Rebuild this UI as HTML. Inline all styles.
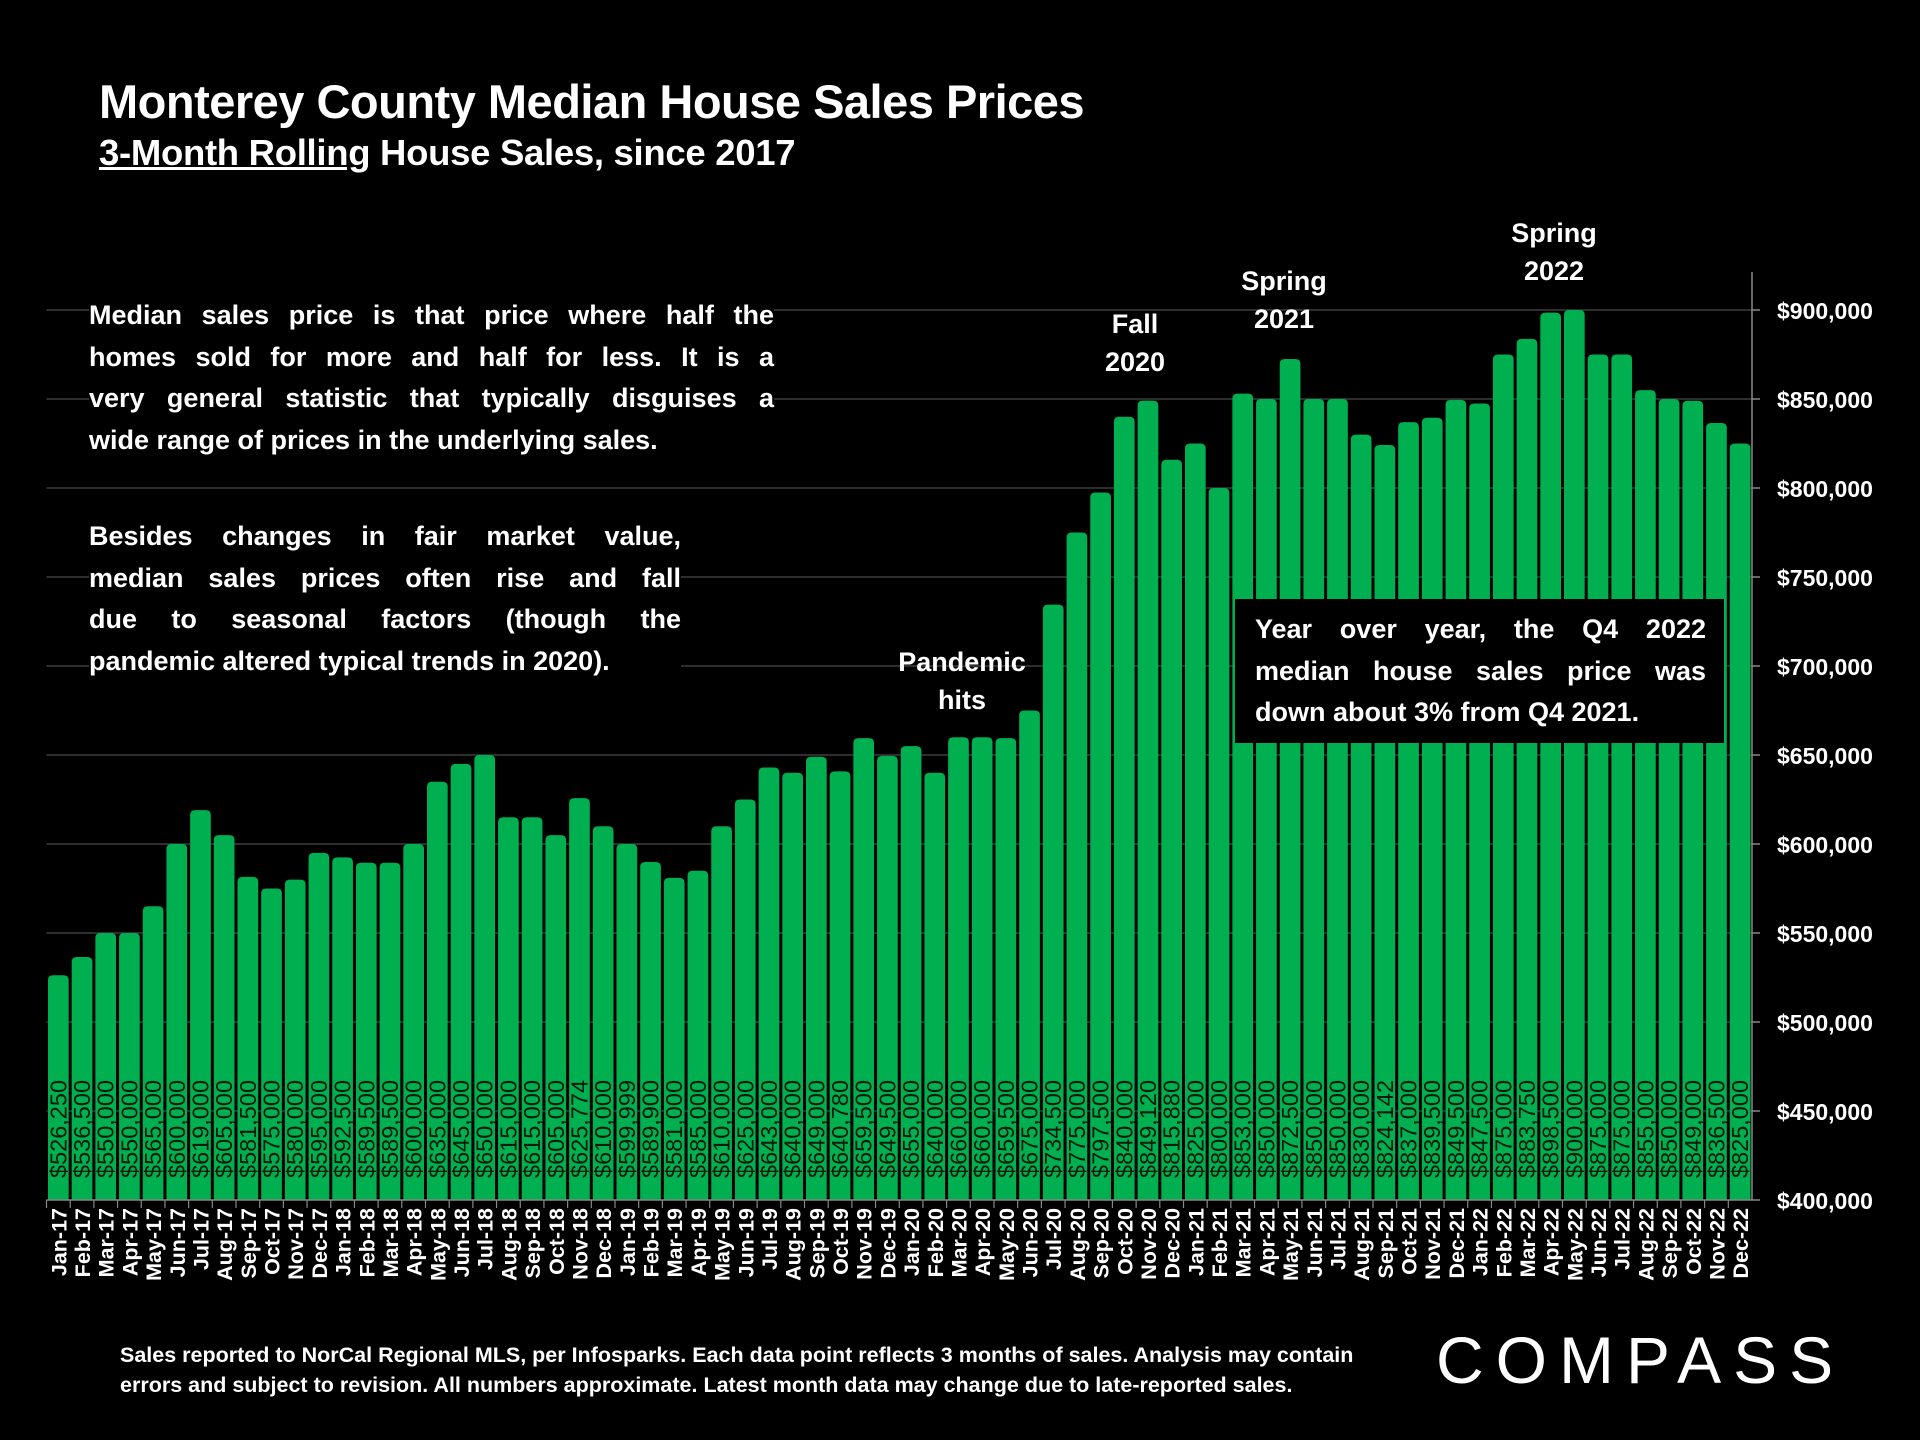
<!DOCTYPE html>
<html><head><meta charset="utf-8">
<style>
html,body{margin:0;padding:0;background:#000;}
body{width:1920px;height:1440px;position:relative;overflow:hidden;font-family:"Liberation Sans",sans-serif;color:#fff;}
.t{position:absolute;font-weight:bold;white-space:nowrap;}
.p{position:absolute;font-weight:bold;font-size:27px;line-height:41.5px;background:#000;}
.p div{text-align:justify;text-align-last:justify;white-space:nowrap;}
.p div.l{text-align-last:left;}
.ann{position:absolute;font-weight:bold;font-size:27px;line-height:38px;text-align:center;transform:translateX(-50%);}
</style></head><body>
<svg id="chart" width="1920" height="1440" style="position:absolute;left:0;top:0"></svg>
<div class="t" style="left:99px;top:74px;font-size:47px;letter-spacing:-0.5px">Monterey County Median House Sales Prices</div>
<div class="t" style="left:99px;top:132px;font-size:36.5px;letter-spacing:-0.3px"><span style="text-decoration:underline">3-Month Rolling</span> House Sales, since 2017</div>
<div class="p" style="left:89px;top:295px;width:685px">
<div>Median sales price is that price where half the</div>
<div>homes sold for more and half for less. It is a</div>
<div>very general statistic that typically disguises a</div>
<div class="l">wide range of prices in the underlying sales.</div>
</div>
<div class="p" style="left:89px;top:516px;width:592px">
<div>Besides changes in fair market value,</div>
<div>median sales prices often rise and fall</div>
<div>due to seasonal factors (though the</div>
<div class="l">pandemic altered typical trends in 2020).</div>
</div>
<div class="ann" style="left:962px;top:643px">Pandemic<br>hits</div>
<div class="ann" style="left:1135px;top:305px">Fall<br>2020</div>
<div class="ann" style="left:1284px;top:262px">Spring<br>2021</div>
<div class="ann" style="left:1554px;top:214px">Spring<br>2022</div>
<div class="p" style="left:1235px;top:599px;width:451px;height:134px;padding:10px 18px 0 20px;">
<div>Year over year, the Q4 2022</div>
<div>median house sales price was</div>
<div class="l">down about 3% from Q4 2021.</div>
</div>
<div class="t" style="left:120px;top:1340px;font-size:21.5px;line-height:30px">Sales reported to NorCal Regional MLS, per Infosparks. Each data point reflects 3 months of sales. Analysis may contain<br>errors and subject to revision. All numbers approximate. Latest month data may change due to late-reported sales.</div>
<div class="t" style="left:1436px;top:1322px;font-size:66px;font-weight:normal;letter-spacing:12px">COMPASS</div>
<script>
const months=["Jan-17","Feb-17","Mar-17","Apr-17","May-17","Jun-17","Jul-17","Aug-17","Sep-17","Oct-17","Nov-17","Dec-17","Jan-18","Feb-18","Mar-18","Apr-18","May-18","Jun-18","Jul-18","Aug-18","Sep-18","Oct-18","Nov-18","Dec-18","Jan-19","Feb-19","Mar-19","Apr-19","May-19","Jun-19","Jul-19","Aug-19","Sep-19","Oct-19","Nov-19","Dec-19","Jan-20","Feb-20","Mar-20","Apr-20","May-20","Jun-20","Jul-20","Aug-20","Sep-20","Oct-20","Nov-20","Dec-20","Jan-21","Feb-21","Mar-21","Apr-21","May-21","Jun-21","Jul-21","Aug-21","Sep-21","Oct-21","Nov-21","Dec-21","Jan-22","Feb-22","Mar-22","Apr-22","May-22","Jun-22","Jul-22","Aug-22","Sep-22","Oct-22","Nov-22","Dec-22"];
const prices=[526250,536500,550000,550000,565000,600000,619000,605000,581500,575000,580000,595000,592500,589500,589500,600000,635000,645000,650000,615000,615000,605000,625774,610000,599999,589900,581000,585000,610000,625000,643000,640000,649000,640780,659500,649500,655000,640000,660000,660000,659500,675000,734500,775000,797500,840000,849120,815880,825000,800000,853000,850000,872500,850000,850000,830000,824142,837000,839500,849500,847500,875000,883750,898500,900000,875000,875000,855000,850000,849000,836500,825000];
const yTicks=[400000,450000,500000,550000,600000,650000,700000,750000,800000,850000,900000];
const svg=document.getElementById('chart');
const NS='http://www.w3.org/2000/svg';
const X0=46.5,X1=1752,Y0=1200,Y1=310,VMIN=400000,VMAX=900000;
const bw=(X1-X0)/months.length;
const xs=i=>X0+i*bw;
const ys=v=>Y0-(v-VMIN)/(VMAX-VMIN)*(Y0-Y1);
function mk(tag,attrs){const e=document.createElementNS(NS,tag);for(const k in attrs)e.setAttribute(k,attrs[k]);svg.appendChild(e);return e;}
yTicks.forEach((v,i)=>{
 if(i>0){const g=mk('line',{x1:X0,x2:X1,y1:ys(v),y2:ys(v),stroke:'#4a4a4a','stroke-width':1.2});
 
 }
 const tk=mk('line',{x1:X1,x2:X1+8,y1:ys(v),y2:ys(v),stroke:'#888','stroke-width':1.5});
 
 
 const t=mk('text',{x:1777,y:ys(v)+9,fill:'#fff','font-size':23,'font-weight':'bold','font-family':'Liberation Sans, sans-serif'});
 t.textContent='$'+v.toLocaleString('en-US');
 
 
});
prices.forEach((v,i)=>{
 const x=xs(i)+1.5,w=bw-3,y=ys(v);
 const r=Math.min(5,w/2);
 const b=mk('path',{d:`M${x},${Y0} V${y+r} Q${x},${y} ${x+r},${y} H${x+w-r} Q${x+w},${y} ${x+w},${y+r} V${Y0} Z`,fill:'#00b050'});
 
 
 const cx=xs(i)+bw/2;
 const vl=mk('text',{x:0,y:0,fill:'#0a1a0a','font-size':23.5,'font-family':'Liberation Sans, sans-serif',transform:`translate(${cx+8},1178) rotate(-90)`});
 vl.textContent='$'+v.toLocaleString('en-US');
 
 
 const ml=mk('text',{x:0,y:0,fill:'#fff','font-size':21.5,'font-weight':'bold','font-family':'Liberation Sans, sans-serif','text-anchor':'end',transform:`translate(${cx+8},1208) rotate(-90)`});
 ml.textContent=months[i];
 
 
 const xt=mk('line',{x1:xs(i),x2:xs(i),y1:Y0,y2:Y0+8,stroke:'#888','stroke-width':1.2});
 
 
});
const ax=mk('line',{x1:X0,x2:X1,y1:Y0,y2:Y0,stroke:'#888','stroke-width':1.5});


const ay=mk('line',{x1:X1,x2:X1,y1:272,y2:Y0,stroke:'#888','stroke-width':1.5});


</script>
</body></html>
